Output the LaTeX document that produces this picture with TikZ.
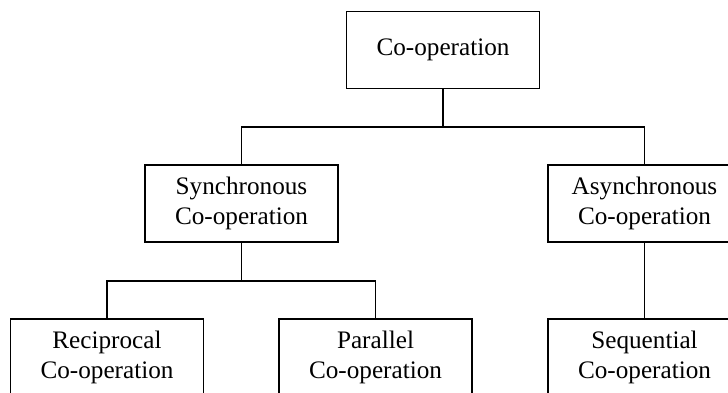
\documentclass[tikz,border=0pt]{standalone}
\usepackage{fontspec}
\setmainfont{Liberation Serif}

\begin{document}
\begin{tikzpicture}[x=0.5pt,y=-0.5pt,
        box/.style={draw,line width=0.7pt,minimum width=96.5pt,minimum height=38.5pt,
            inner sep=0pt,align=center,font=\fontsize{12.6}{15}\selectfont},
        link/.style={line width=0.6pt}]
        % --- CANVAS (boxes run off the right and bottom edges) ---
        \useasboundingbox (0,0) rectangle (728,392);
        \clip (0,0) rectangle (728,392);

        % --- TOP ---
        \node[box] (coop) at (443,50) {Co-operation};

        % --- SECOND ROW ---
        \node[box] (sync) at (241.5,203.5) {Synchronous\\Co-operation};
        \node[box] (async) at (644.5,203.5) {Asynchronous\\Co-operation};

        % --- THIRD ROW ---
        \node[box] (recip) at (107,357.5) {Reciprocal\\Co-operation};
        \node[box] (para) at (375.5,357.5) {Parallel\\Co-operation};
        \node[box] (seq) at (644.5,357.5) {Sequential\\Co-operation};

        % --- CONNECTORS ---
        \coordinate (j1) at (443,127);
        \coordinate (j2) at (241.5,281);
        \draw[link] (coop.south) -- (j1);
        \draw[link] (sync.north) |- (j1) -| (async.north);
        \draw[link] (sync.south) -- (j2);
        \draw[link] (recip.north) |- (j2) -| (para.north);
        \draw[link] (async.south) -- (seq.north);
    \end{tikzpicture}
\end{document}
